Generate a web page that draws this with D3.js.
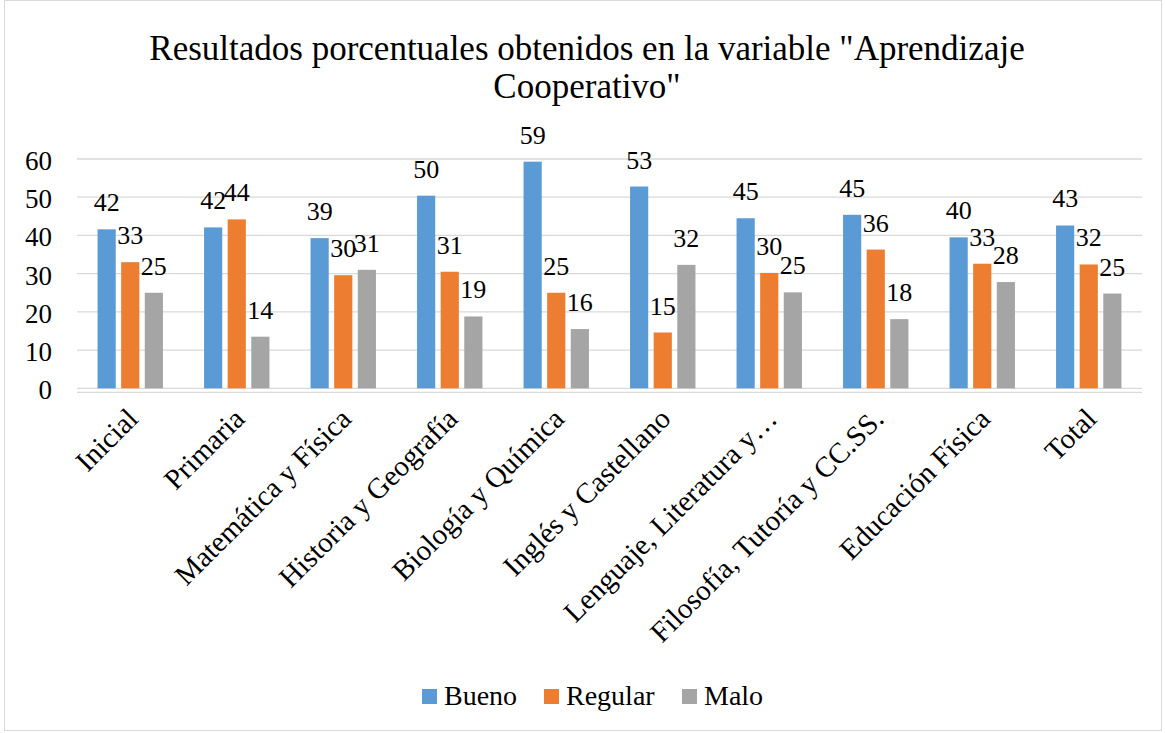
<!DOCTYPE html>
<html>
<head>
<meta charset="utf-8">
<script src="https://cdn.jsdelivr.net/npm/d3@7"></script>
<style>
  body { margin: 0; background: #fff; }
</style>
</head>
<body>
<div id="chart"></div>
<script>
// categories and series
const categories = ["Inicial", "Primaria", "Matemática y Física", "Historia y Geografía",
  "Biología y Química", "Inglés y Castellano", "Lenguaje, Literatura y…",
  "Filosofía, Tutoría y CC.SS.", "Educación Física", "Total"];
const seriesNames = ["Bueno", "Regular", "Malo"];
const bueno   = [41.6, 42.1, 39.3, 50.4, 59.3, 52.8, 44.5, 45.4, 39.5, 42.6];
const regular = [33.0, 44.2, 29.6, 30.5, 25.0, 14.6, 30.2, 36.3, 32.6, 32.4];
const malo    = [25.0, 13.5, 31.0, 18.8, 15.5, 32.3, 25.1, 18.1, 27.8, 24.8];
const yTicks = [0, 10, 20, 30, 40, 50, 60];
const titleLines = ['Resultados porcentuales obtenidos en la variable "Aprendizaje', 'Cooperativo"'];

const colors = ["#5b9bd5", "#ed7d31", "#a5a5a5"];
const W = 1165, H = 733;
const serif = "'Liberation Serif'";

const svg = d3.select("#chart").append("svg")
  .attr("width", W).attr("height", H);

// outer border like the office chart frame
svg.append("rect")
  .attr("x", 4.5).attr("y", 0.5).attr("width", 1157).attr("height", 730)
  .attr("fill", "none").attr("stroke", "#d9d9d9");

// scales
const x0 = d3.scaleBand()
  .domain(categories)
  .range([77, 1142])
  .paddingInner(0.386)
  .paddingOuter(0.193);
const x1 = d3.scaleBand()
  .domain(seriesNames)
  .range([0, x0.bandwidth()])
  .paddingInner(0.23);
const y = d3.scaleLinear()
  .domain([0, 60])
  .range([388.3, 159]);

// gridlines
svg.append("g")
  .selectAll("line")
  .data(yTicks)
  .join("line")
  .attr("x1", 77).attr("x2", 1142)
  .attr("y1", d => y(d)).attr("y2", d => y(d))
  .attr("stroke", "#d9d9d9").attr("stroke-width", 1.3);
// axis line just under the 0 gridline
svg.append("line")
  .attr("x1", 77).attr("x2", 1142)
  .attr("y1", y(0) + 4).attr("y2", y(0) + 4)
  .attr("stroke", "#d9d9d9").attr("stroke-width", 1.3);

// bars
const flat = [];
categories.forEach((c, i) => {
  [bueno[i], regular[i], malo[i]].forEach((v, k) => {
    flat.push({ cat: c, s: seriesNames[k], v: v, k: k });
  });
});

svg.append("g")
  .selectAll("rect")
  .data(flat)
  .join("rect")
  .attr("x", d => x0(d.cat) + x1(d.s))
  .attr("y", d => y(d.v))
  .attr("width", x1.bandwidth())
  .attr("height", d => y(0) - y(d.v))
  .attr("fill", d => colors[d.k]);

// legend swatches
const legendX = [422, 544, 682];
svg.append("g")
  .selectAll("rect")
  .data(seriesNames)
  .join("rect")
  .attr("x", (d, i) => legendX[i]).attr("y", 689)
  .attr("width", 15).attr("height", 15)
  .attr("fill", (d, i) => colors[i]);

// ---- all texts, directly on the svg, content in a tspan ----
function label(x, y, size, anchor, str, transform) {
  const t = svg.append("text")
    .attr("font-family", serif)
    .attr("font-size", size)
    .attr("text-anchor", anchor);
  if (transform) t.attr("transform", transform);
  t.append("tspan").attr("x", x).attr("y", y).text(str);
  return t;
}

// title
titleLines.forEach((s, i) => label(587, 60 + i * 38, 35, "middle", s));

// y tick labels
yTicks.forEach(d => label(52, y(d) + 11, 27, "end", String(d)));

// data labels
flat.forEach(d => label(x0(d.cat) + x1(d.s) + x1.bandwidth() / 2, y(d.v) - 18, 26, "middle",
  String(Math.round(d.v))));

// category labels, rotated
categories.forEach(c => {
  const t = label(0, 0, 29, "end", c,
    `translate(${x0(c) + x0.bandwidth() / 2 - 5},406) rotate(-45)`);
  t.select("tspan").attr("dy", "0.71em");
});

// legend texts
seriesNames.forEach((s, i) => label(legendX[i] + 22, 705, 28, "start", s));
</script>
</body>
</html>
